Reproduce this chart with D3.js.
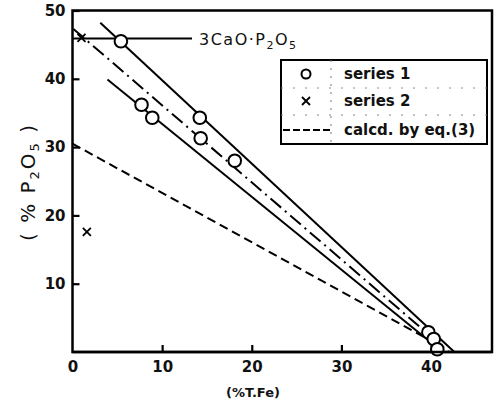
<!DOCTYPE html>
<html>
<head>
<meta charset="utf-8">
<script src="https://cdn.jsdelivr.net/npm/d3@7"></script>
<style>
  body { margin: 0; background: #fff; }
  svg text { font-family: "DejaVu Sans", sans-serif; fill: #111; }
</style>
</head>
<body>
<div id="chart"></div>
<script>
// values
var series1X = [5.4, 7.7, 8.9, 14.2, 14.3, 18.1, 39.7, 40.3, 40.7];
var series1Y = [45.5, 36.2, 34.3, 34.3, 31.3, 28.0, 2.9, 1.9, 0.4];
var series2X = [1.6, 1.0];
var series2Y = [17.6, 46.0];

// fitted lines (end points)
var upperLineX = [3.1, 42.6], upperLineY = [48.2, 0];
var lowerLineX = [3.9, 41.3], lowerLineY = [39.9, 0];
var dashDotX = [0.1, 42.0], dashDotY = [47.3, 0];
var calcdX = [0, 39.5], calcdY = [30.5, 2.0];
var compoundY = 45.9;

var xTicks = [0, 10, 20, 30, 40];
var yTicks = [10, 20, 30, 40, 50];
var legendLabels = ['series  1', 'series  2', 'calcd. by eq.(3)'];

var W = 504, H = 405;
var svg = d3.select('#chart').append('svg')
  .attr('width', W).attr('height', H);

var x = d3.scaleLinear().domain([0, 46.8]).range([72.5, 492]);
var y = d3.scaleLinear().domain([0, 50]).range([352, 10.5]);

// frame
svg.append('rect')
  .attr('x', x(0)).attr('y', y(50))
  .attr('width', x(46.8) - x(0)).attr('height', y(0) - y(50))
  .attr('fill', 'none').attr('stroke', '#000').attr('stroke-width', 2.5);

var xAxis = svg.append('g')
  .attr('transform', 'translate(0,' + y(0) + ')')
  .call(d3.axisBottom(x).tickValues(xTicks).tickSize(-7).tickPadding(9));
var yAxis = svg.append('g')
  .attr('transform', 'translate(' + x(0) + ',0)')
  .call(d3.axisLeft(y).tickValues(yTicks).tickSize(-7).tickPadding(6));

[xAxis, yAxis].forEach(function(g) {
  g.select('.domain').remove();
  g.selectAll('line').attr('stroke', '#000').attr('stroke-width', 2.2);
  g.selectAll('text')
    .style('font-family', '"DejaVu Sans", sans-serif')
    .style('font-size', '15px')
    .style('font-weight', 'bold')
    .attr('fill', '#111');
});
xAxis.selectAll('.tick').filter(function(d) { return d === 0; }).select('line').remove();
yAxis.selectAll('text').attr('dx', '-1');

// lines
function seg(xs, ys) {
  return d3.line().x(function(d) { return x(d[0]); }).y(function(d) { return y(d[1]); })(d3.zip(xs, ys));
}
svg.append('path').attr('d', seg(upperLineX, upperLineY))
  .attr('stroke', '#000').attr('stroke-width', 2).attr('fill', 'none');
svg.append('path').attr('d', seg(lowerLineX, lowerLineY))
  .attr('stroke', '#000').attr('stroke-width', 2).attr('fill', 'none');
svg.append('path').attr('d', seg(dashDotX, dashDotY))
  .attr('stroke', '#000').attr('stroke-width', 2).attr('fill', 'none')
  .attr('stroke-dasharray', '14,5,2,5');
svg.append('path').attr('d', seg(calcdX, calcdY))
  .attr('stroke', '#000').attr('stroke-width', 2).attr('fill', 'none')
  .attr('stroke-dasharray', '9,5');

// 3CaO.P2O5 marker line
svg.append('line')
  .attr('x1', x(0)).attr('x2', 192)
  .attr('y1', y(compoundY)).attr('y2', y(compoundY))
  .attr('stroke', '#000').attr('stroke-width', 2.2);
var lab = svg.append('text')
  .attr('x', 199).attr('y', y(compoundY) + 6)
  .style('font-size', '16px').style('letter-spacing', '1.5px');
lab.append('tspan').text('3CaO\u00b7P');
lab.append('tspan').attr('dy', 4).style('font-size', '11px').text('2');
lab.append('tspan').attr('dy', -4).text('O');
lab.append('tspan').attr('dy', 4).style('font-size', '11px').text('5');

// series 2 crosses
svg.selectAll('.cross').data(d3.zip(series2X, series2Y)).enter()
  .append('path').attr('class', 'cross')
  .attr('d', function(d) {
    var cx = x(d[0]), cy = y(d[1]), s = 4;
    return 'M' + (cx - s) + ',' + (cy - s) + 'L' + (cx + s) + ',' + (cy + s) +
           'M' + (cx - s) + ',' + (cy + s) + 'L' + (cx + s) + ',' + (cy - s);
  })
  .attr('stroke', '#000').attr('stroke-width', 1.8);

// series 1 circles
svg.selectAll('.pt').data(d3.zip(series1X, series1Y)).enter()
  .append('circle').attr('class', 'pt')
  .attr('cx', function(d) { return x(d[0]); })
  .attr('cy', function(d) { return y(d[1]); })
  .attr('r', 6.3)
  .attr('fill', '#fff').attr('stroke', '#000').attr('stroke-width', 2);

// redraw the bottom axis line over the lowest circle
svg.append('line').attr('x1', x(0)).attr('x2', x(46.8)).attr('y1', y(0)).attr('y2', y(0))
  .attr('stroke', '#000').attr('stroke-width', 2.5);

// legend
var lg = svg.append('g');
lg.append('rect').attr('x', 281).attr('y', 60).attr('width', 206).attr('height', 84)
  .attr('fill', '#fff').attr('stroke', '#000').attr('stroke-width', 2);
lg.append('line').attr('x1', 331).attr('x2', 331).attr('y1', 60).attr('y2', 144)
  .attr('stroke', '#777').attr('stroke-width', 1).attr('stroke-dasharray', '2,6');
[88, 115].forEach(function(yy) {
  lg.append('line').attr('x1', 281).attr('x2', 487).attr('y1', yy).attr('y2', yy)
    .attr('stroke', '#888').attr('stroke-width', 1).attr('stroke-dasharray', '2,10');
});
var rowsY = [74, 101, 130];
lg.append('circle').attr('cx', 306).attr('cy', rowsY[0]).attr('r', 4.5)
  .attr('fill', '#fff').attr('stroke', '#000').attr('stroke-width', 2);
lg.append('path')
  .attr('d', 'M302,' + (rowsY[1] - 4) + 'L310,' + (rowsY[1] + 4) + 'M302,' + (rowsY[1] + 4) + 'L310,' + (rowsY[1] - 4))
  .attr('stroke', '#000').attr('stroke-width', 1.8);
lg.append('line').attr('x1', 283).attr('x2', 330).attr('y1', rowsY[2]).attr('y2', rowsY[2])
  .attr('stroke', '#000').attr('stroke-width', 2).attr('stroke-dasharray', '7,3');
lg.selectAll('.lt').data(legendLabels).enter().append('text')
  .attr('x', 344).attr('y', function(d, i) { return rowsY[i] + 5; })
  .style('font-size', '15px').style('font-weight', 'bold')
  .text(function(d) { return d; });

// axis titles
svg.append('text')
  .attr('x', 253).attr('y', 397).attr('text-anchor', 'middle')
  .style('font-size', '13px').style('font-weight', 'bold')
  .text('(%T.Fe)');
var yl = svg.append('text')
  .attr('transform', 'translate(35,182) rotate(-90)')
  .attr('text-anchor', 'middle')
  .style('font-size', '20px').style('letter-spacing', '2px');
yl.append('tspan').text('( % P');
yl.append('tspan').attr('dy', 4).style('font-size', '13px').text('2');
yl.append('tspan').attr('dy', -4).text('O');
yl.append('tspan').attr('dy', 4).style('font-size', '13px').text('5');
yl.append('tspan').attr('dy', -4).text(' )');
</script>
</body>
</html>
